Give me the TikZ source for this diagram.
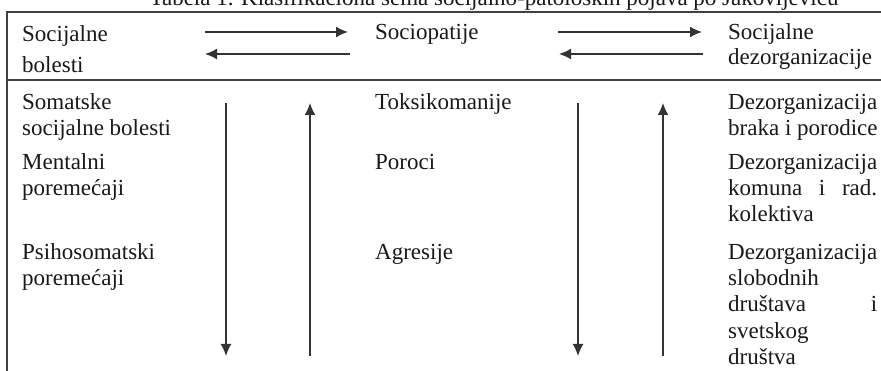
\documentclass[tikz,border=0pt]{standalone}
\usepackage{fontspec}
\setmainfont{Liberation Serif}
\usetikzlibrary{arrows.meta}
\tikzset{
  txt/.style={anchor=base west, inner sep=0pt, font=\fontsize{23}{26}\selectfont, text=black!90},
  ttl/.style={anchor=base, inner sep=0pt, font=\fontsize{23}{26}\selectfont, text=black!90},
  rule/.style={draw=black!75, line width=1.5pt},
  flow/.style={draw=black!80, line width=1.6pt, -{Latex[length=12pt,width=11pt]}}
}
\begin{document}
\begin{tikzpicture}[x=1pt,y=-1pt]
\useasboundingbox (0,0) rectangle (881,371);
\clip (0,0) rectangle (881,371);
% title (cut at the top)
\node[ttl] (title) at (494,6) {Tabela 1. Klasifikaciona šema socijalno-patoloških pojava po Jakovljeviću};
% table rules
\coordinate (tl) at (7,12);
\coordinate (tr) at (881,12);
\coordinate (sl) at (7,80);
\coordinate (sr) at (881,80);
\coordinate (bl) at (7,371);
\draw[rule] (tr) -- (tl) -- (bl);
\draw[rule, line width=2.2pt] (sl) -- (sr);
% header
\node[txt] (h1a) at (22,42) {Socijalne};
\node[txt] (h1b) at (22,73) {bolesti};
\node[txt] (h2) at (375,40) {Sociopatije};
\node[txt] (h3a) at (728,40) {Socijalne};
\node[txt] (h3b) at (728,65) {dezorganizacije};
% header arrows
\coordinate (a1s) at (205,32); \coordinate (a1e) at (348,32);
\coordinate (b1s) at (350,54); \coordinate (b1e) at (205,54);
\coordinate (a2s) at (558,32); \coordinate (a2e) at (702,32);
\coordinate (b2s) at (703,54); \coordinate (b2e) at (559,54);
\draw[flow] (a1s) -- (a1e);
\draw[flow] (b1s) -- (b1e);
\draw[flow] (a2s) -- (a2e);
\draw[flow] (b2s) -- (b2e);
% left column
\node[txt] (l1a) at (22,110) {Somatske};
\node[txt] (l1b) at (22,136) {socijalne bolesti};
\node[txt] (l2a) at (22,170) {Mentalni};
\node[txt] (l2b) at (22,196) {poremećaji};
\node[txt] (l3a) at (22,260) {Psihosomatski};
\node[txt] (l3b) at (22,286) {poremećaji};
% middle column
\node[txt] (m1) at (375,110) {Toksikomanije};
\node[txt] (m2) at (375,170) {Poroci};
\node[txt] (m3) at (375,260) {Agresije};
% right column
\node[txt] (r1a) at (728,110) {Dezorganizacija};
\node[txt] (r1b) at (728,136) {braka i porodice};
\node[txt] (r2a) at (728,170) {Dezorganizacija};
\node[txt] (r2b) at (728,196) {\makebox[149pt][s]{komuna i rad.}};
\node[txt] (r2c) at (728,222) {kolektiva};
\node[txt] (r3a) at (728,260) {Dezorganizacija};
\node[txt] (r3b) at (728,286) {slobodnih};
\node[txt] (r3c) at (728,312) {\makebox[149pt][s]{društava i}};
\node[txt] (r3d) at (728,338) {svetskog};
\node[txt] (r3e) at (728,364) {društva};
% vertical arrows
\coordinate (d1s) at (226,103); \coordinate (d1e) at (226,356);
\coordinate (u1s) at (310,356); \coordinate (u1e) at (310,103);
\coordinate (d2s) at (578,103); \coordinate (d2e) at (578,356);
\coordinate (u2s) at (663,356); \coordinate (u2e) at (663,103);
\draw[flow] (d1s) -- (d1e);
\draw[flow] (u1s) -- (u1e);
\draw[flow] (d2s) -- (d2e);
\draw[flow] (u2s) -- (u2e);
\end{tikzpicture}
\end{document}
